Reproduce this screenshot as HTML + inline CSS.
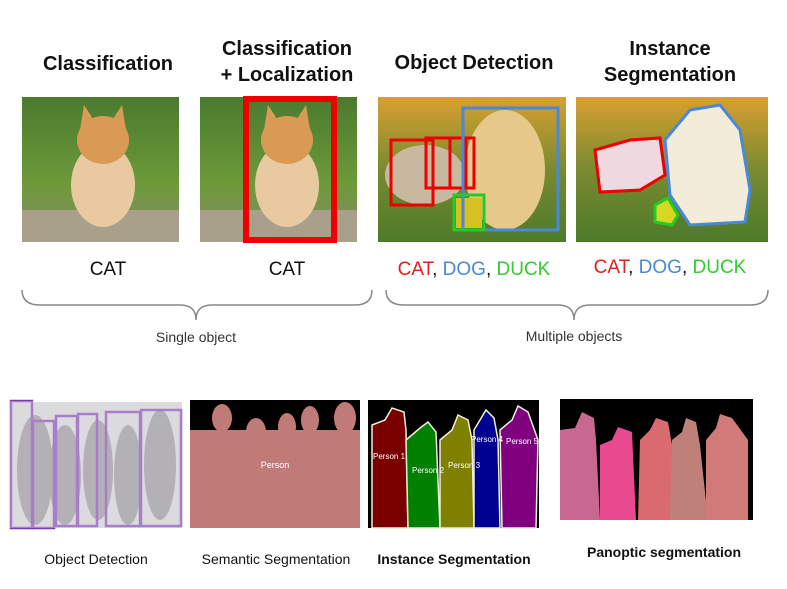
<!DOCTYPE html>
<html><head><meta charset="utf-8"><style>
body{margin:0;background:#fff;width:787px;height:589px;overflow:hidden}
svg{display:block}
text{font-family:"Liberation Sans",Arial,sans-serif}
</style></head><body>
<svg width="787" height="589" viewBox="0 0 787 589">
<defs>
<linearGradient id="gr" x1="0" y1="0" x2="0" y2="1"><stop offset="0" stop-color="#4a7a2e"/><stop offset="0.6" stop-color="#6d9a3a"/><stop offset="1" stop-color="#8a8a6a"/></linearGradient>
<linearGradient id="gr2" x1="0" y1="0" x2="0" y2="1"><stop offset="0" stop-color="#d8a030"/><stop offset="0.5" stop-color="#7a8a30"/><stop offset="1" stop-color="#4d7a2a"/></linearGradient>
</defs>
<g font-weight="bold" font-size="20" text-anchor="middle" fill="#111">
<text x="108" y="70">Classification</text>
<text x="287" y="55">Classification</text>
<text x="287" y="81">+ Localization</text>
<text x="474" y="69">Object Detection</text>
<text x="670" y="55">Instance</text>
<text x="670" y="81">Segmentation</text>
</g>
<!-- image 1 -->
<rect x="22" y="97" width="157" height="145" fill="url(#gr)"/>
<rect x="22" y="210" width="157" height="32" fill="#a8a08a"/>
<ellipse cx="103" cy="185" rx="32" ry="42" fill="#e8c9a0"/>
<ellipse cx="103" cy="140" rx="26" ry="24" fill="#d99a55"/>
<polygon points="80,130 84,105 95,122" fill="#d99a55"/><polygon points="126,130 122,105 111,122" fill="#d99a55"/>
<!-- image 2 -->
<rect x="200" y="97" width="157" height="145" fill="url(#gr)"/>
<rect x="200" y="210" width="157" height="32" fill="#a8a08a"/>
<ellipse cx="287" cy="185" rx="32" ry="42" fill="#e8c9a0"/>
<ellipse cx="287" cy="140" rx="26" ry="24" fill="#d99a55"/>
<polygon points="264,130 268,105 279,122" fill="#d99a55"/><polygon points="310,130 306,105 295,122" fill="#d99a55"/>
<rect x="246" y="99" width="88" height="141" fill="none" stroke="#e00" stroke-width="6"/>
<!-- image 3 -->
<rect x="378" y="97" width="188" height="145" fill="url(#gr2)"/>
<ellipse cx="425" cy="175" rx="40" ry="30" fill="#c9b8a0"/>
<ellipse cx="505" cy="170" rx="40" ry="60" fill="#e6c98a"/>
<rect x="456" y="198" width="26" height="30" fill="#d8c020"/>
<rect x="391" y="140" width="42" height="65" fill="none" stroke="#e00" stroke-width="3"/>
<rect x="426" y="138" width="40" height="50" fill="none" stroke="#e00" stroke-width="3"/>
<rect x="450" y="138" width="24" height="50" fill="none" stroke="#e00" stroke-width="3"/>
<rect x="463" y="108" width="95" height="122" fill="none" stroke="#4a88d8" stroke-width="3"/>
<rect x="454" y="195" width="30" height="35" fill="none" stroke="#22cc22" stroke-width="3"/>
<!-- image 4 -->
<rect x="576" y="97" width="192" height="145" fill="url(#gr2)"/>
<path d="M595 150 L630 140 L660 138 L665 175 L640 190 L600 192 Z" fill="#f0d8e0" stroke="#e00" stroke-width="3"/>
<path d="M665 140 L690 110 L720 105 L740 130 L750 190 L745 222 L690 225 L670 195 Z" fill="#f2ecd8" stroke="#4a88d8" stroke-width="3"/>
<path d="M655 205 L668 198 L678 215 L672 225 L655 222 Z" fill="#d8d820" stroke="#22cc22" stroke-width="3"/>
<g font-size="19" text-anchor="middle" fill="#111">
<text x="108" y="275">CAT</text>
<text x="287" y="275">CAT</text>
<text x="474" y="275"><tspan fill="#e02020">CAT</tspan>, <tspan fill="#4a88d8">DOG</tspan>, <tspan fill="#30cc30">DUCK</tspan></text>
<text x="670" y="273"><tspan fill="#e02020">CAT</tspan>, <tspan fill="#4a88d8">DOG</tspan>, <tspan fill="#30cc30">DUCK</tspan></text>
</g>
<g fill="none" stroke="#888" stroke-width="1.5">
<path d="M22 290 Q22 305 40 305 L180 305 Q196 305 196 320 Q196 305 212 305 L355 305 Q372 305 372 290"/>
<path d="M386 290 Q386 305 404 305 L558 305 Q574 305 574 320 Q574 305 590 305 L750 305 Q768 305 768 290"/>
</g>
<g font-size="14" text-anchor="middle" fill="#333">
<text x="196" y="342">Single object</text>
<text x="574" y="341">Multiple objects</text>
</g>
<!-- bottom 1 -->
<rect x="10" y="402" width="172" height="126" fill="#c8c8cc"/>
<g fill="#8a8890"><ellipse cx="35" cy="470" rx="18" ry="55"/><ellipse cx="65" cy="475" rx="16" ry="50"/><ellipse cx="98" cy="470" rx="15" ry="50"/><ellipse cx="128" cy="475" rx="14" ry="50"/><ellipse cx="160" cy="465" rx="16" ry="55"/></g>
<g fill="none" stroke="#7a3ab0" stroke-width="2.5"><rect x="11" y="401" width="21" height="127"/><rect x="33" y="421" width="21" height="107"/><rect x="56" y="416" width="21" height="110"/><rect x="78" y="414" width="19" height="112"/><rect x="106" y="412" width="34" height="114"/><rect x="141" y="410" width="40" height="116"/></g>
<rect x="10" y="401" width="172" height="127" fill="#fff" opacity="0.35"/>
<!-- bottom 2 -->
<rect x="190" y="400" width="170" height="128" fill="#000"/>
<g fill="#c07a78"><rect x="190" y="430" width="170" height="98"/><ellipse cx="222" cy="418" rx="10" ry="14"/><ellipse cx="256" cy="432" rx="10" ry="14"/><ellipse cx="287" cy="427" rx="9" ry="14"/><ellipse cx="310" cy="420" rx="9" ry="14"/><ellipse cx="345" cy="418" rx="11" ry="16"/></g>
<text x="275" y="468" font-size="9" fill="#fff" text-anchor="middle">Person</text>
<!-- bottom 3 -->
<rect x="368" y="400" width="171" height="128" fill="#000"/>
<g stroke="#f0f0d8" stroke-width="1.5"><path d="M372 425 L385 420 L392 408 L404 412 L406 430 L408 528 L372 528 Z" fill="#7a0000"/><path d="M406 440 L420 428 L428 422 L436 432 L440 528 L408 528 Z" fill="#008000"/><path d="M440 440 L452 430 L458 415 L468 420 L472 440 L474 528 L440 528 Z" fill="#808000"/><path d="M474 430 L480 420 L486 410 L494 418 L498 440 L500 528 L474 528 Z" fill="#000090"/><path d="M500 430 L512 420 L518 406 L528 412 L538 440 L536 528 L502 528 Z" fill="#800080"/></g>
<g font-size="8" fill="#fff"><text x="373" y="459">Person 1</text><text x="412" y="473">Person 2</text><text x="448" y="468">Person 3</text><text x="471" y="442">Person 4</text><text x="506" y="444">Person 5</text></g>
<!-- bottom 4 -->
<rect x="560" y="399" width="193" height="121" fill="#000"/>
<g><path d="M560 430 L575 428 L582 412 L594 418 L596 440 L600 520 L560 520 Z" fill="#c86890"/><path d="M600 445 L612 440 L618 427 L632 432 L636 520 L600 520 Z" fill="#e84a90"/><path d="M640 440 L650 430 L656 418 L668 422 L672 445 L672 520 L638 520 Z" fill="#d86a70"/><path d="M672 440 L682 432 L686 418 L696 422 L700 445 L708 520 L670 520 Z" fill="#c0807a"/><path d="M706 440 L716 428 L720 414 L732 418 L748 440 L748 520 L706 520 Z" fill="#d07a7a"/></g>
<g font-family="'DejaVu Sans Condensed','Liberation Sans Narrow','Liberation Sans',sans-serif" font-size="14" text-anchor="middle" fill="#111">
<text x="96" y="564">Object Detection</text>
<text x="276" y="564">Semantic Segmentation</text>
<text x="454" y="564" font-weight="bold">Instance Segmentation</text>
<text x="664" y="557" font-weight="bold">Panoptic segmentation</text>
</g>
</svg>
</body></html>
